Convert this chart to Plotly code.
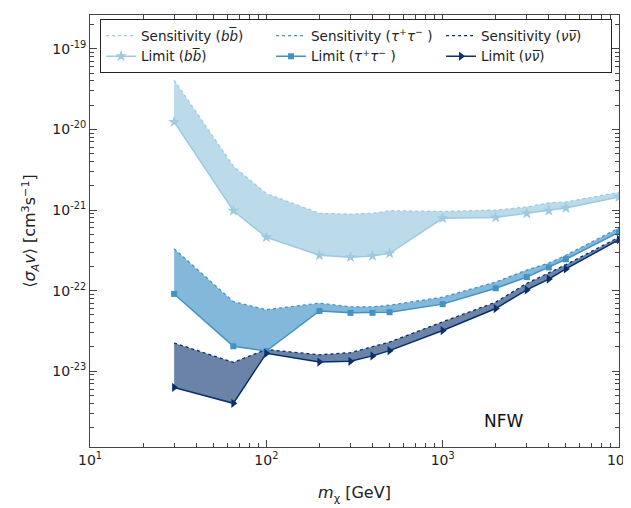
import plotly.graph_objects as go
import numpy as np

# masses (GeV)
mass = [30, 65, 100, 200, 300, 400, 500, 1000, 2000, 3000, 4000, 5000, 10000]

# b bbar
bb_limit = [1.24e-20, 9.8e-22, 4.6e-22, 2.75e-22, 2.6e-22, 2.7e-22, 2.9e-22,
            7.9e-22, 8.1e-22, 9.1e-22, 9.8e-22, 1.06e-21, 1.45e-21]
bb_sens = [4.1e-20, 3.5e-21, 1.6e-21, 9.1e-22, 8.9e-22, 9.1e-22, 9.8e-22,
           9.6e-22, 1.0e-21, 1.09e-21, 1.23e-21, 1.26e-21, 1.66e-21]

# tau+ tau-
tau_limit = [9.1e-23, 2.04e-23, 1.78e-23, 5.6e-23, 5.3e-23, 5.3e-23, 5.4e-23,
             6.8e-23, 1.07e-22, 1.47e-22, 1.94e-22, 2.45e-22, 5.3e-22]
tau_sens = [3.3e-22, 7.3e-23, 5.8e-23, 7.0e-23, 6.3e-23, 6.3e-23, 6.6e-23,
            8.3e-23, 1.28e-22, 1.8e-22, 2.2e-22, 2.75e-22, 6.0e-22]

# nu nubar
nu_limit = [6.3e-24, 4.0e-24, 1.67e-23, 1.3e-23, 1.33e-23, 1.55e-23, 1.8e-23,
            3.2e-23, 6.0e-23, 1.02e-22, 1.39e-22, 1.86e-22, 4.3e-22]
nu_sens = [2.24e-23, 1.29e-23, 1.86e-23, 1.6e-23, 1.7e-23, 2.0e-23, 2.3e-23,
           4.1e-23, 7.2e-23, 1.23e-22, 1.65e-22, 2.1e-22, 4.6e-22]

x_tickvals = [10, 100, 1000, 10000]
x_ticktext = ["10<sup>1</sup>", "10<sup>2</sup>", "10<sup>3</sup>", "10<sup>4</sup>"]
y_tickvals = [1e-23, 1e-22, 1e-21, 1e-20, 1e-19]
y_ticktext = ["10<sup>-23</sup>", "10<sup>-22</sup>", "10<sup>-21</sup>",
              "10<sup>-20</sup>", "10<sup>-19</sup>"]

channels = [
    dict(name_s="Sensitivity (<i>b</i><i>b̅</i>)", name_l="Limit (<i>b</i><i>b̅</i>)",
         lim=bb_limit, sens=bb_sens, color="#9ecae1", fill="rgba(158,202,225,0.7)",
         symbol="star", msize=9),
    dict(name_s="Sensitivity (<i>τ</i><sup>+</sup><i>τ</i><sup>−</sup> )",
         name_l="Limit (<i>τ</i><sup>+</sup><i>τ</i><sup>−</sup> )",
         lim=tau_limit, sens=tau_sens, color="#4292c6", fill="rgba(66,146,198,0.65)",
         symbol="square", msize=6),
    dict(name_s="Sensitivity (<i>ν</i><i>ν̅</i>)", name_l="Limit (<i>ν</i><i>ν̅</i>)",
         lim=nu_limit, sens=nu_sens, color="#08306b", fill="rgba(8,48,107,0.6)",
         symbol="triangle-right", msize=8),
]

fig = go.Figure()

# fills
for ch in channels:
    fig.add_trace(go.Scatter(
        x=list(mass) + list(mass)[::-1],
        y=list(ch["sens"]) + list(ch["lim"])[::-1],
        fill="toself", fillcolor=ch["fill"], line=dict(width=0),
        mode="lines", showlegend=False, hoverinfo="skip"))

# sensitivity lines (legend row 1)
for ch in channels:
    fig.add_trace(go.Scatter(
        x=mass, y=ch["sens"], mode="lines", name=ch["name_s"],
        line=dict(color=ch["color"], width=1.3, dash="dot")))

# limit lines (legend row 2)
for ch in channels:
    fig.add_trace(go.Scatter(
        x=mass, y=ch["lim"], mode="lines+markers", name=ch["name_l"],
        line=dict(color=ch["color"], width=1.5),
        marker=dict(symbol=ch["symbol"], size=ch["msize"], color=ch["color"])))

minor_x = [m * 10 ** e for e in range(1, 4) for m in range(2, 10)]
minor_y = [m * 10.0 ** e for e in range(-24, -18) for m in range(2, 10)]

axis_common = dict(showgrid=False, zeroline=False, showline=True, linecolor="#444",
                   linewidth=1, mirror="allticks", ticks="inside", ticklen=7,
                   tickcolor="#444", automargin=False, ticklabeloverflow="allow",
                   tickfont=dict(family="DejaVu Sans", size=14, color="#222"))

fig.update_xaxes(type="log", range=[0.9999, 4.0001], tickvals=x_tickvals, ticktext=x_ticktext,
                 minor=dict(tickvals=minor_x, ticks="inside", ticklen=4, tickcolor="#444"),
                 title=dict(text="<i>m</i><sub>χ</sub> [GeV]", standoff=20,
                            font=dict(family="DejaVu Sans", size=16, color="#222")),
                 **axis_common)
fig.update_yaxes(type="log", range=[-23.94, -18.58], tickvals=y_tickvals, ticktext=y_ticktext,
                 minor=dict(tickvals=minor_y, ticks="inside", ticklen=4, tickcolor="#444"),
                 title=dict(text="⟨<i>σ</i><sub><i>A</i></sub><i>v</i>⟩ [cm<sup>3</sup>s<sup>−1</sup>]",
                            standoff=12, font=dict(family="DejaVu Sans", size=16, color="#222")),
                 **axis_common)

fig.add_annotation(x=np.log10(2200), y=np.log10(2.4e-24), xref="x", yref="y",
                   text="NFW", showarrow=False,
                   font=dict(family="DejaVu Sans", size=17, color="#111"))

# page body has an 8px default margin, so the figure is offset by 8px
fig.update_layout(
    width=623, height=500,
    margin=dict(l=82, r=12, t=7, b=61, autoexpand=False),
    paper_bgcolor="white", plot_bgcolor="white",
    font=dict(family="DejaVu Sans", color="#222"),
    legend=dict(orientation="h", x=0.019, y=0.99, xanchor="left", yanchor="top",
                bordercolor="#222", borderwidth=1, bgcolor="white",
                entrywidth=125, entrywidthmode="pixels",
                font=dict(family="DejaVu Sans", size=13.5, color="#222"),
                tracegroupgap=0, itemwidth=30),
)

fig.write_html("out.html")
